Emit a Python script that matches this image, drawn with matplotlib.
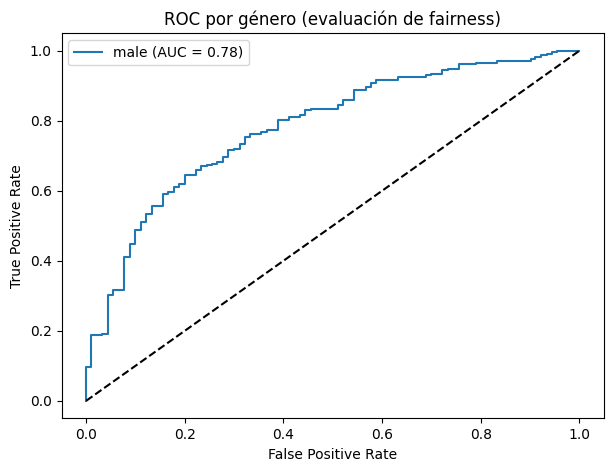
import matplotlib
matplotlib.use("Agg")
import matplotlib.pyplot as plt

fpr = [0.0, 0.0, 0.009, 0.009, 0.032, 0.032, 0.044, 0.044, 0.054, 0.054,
       0.077, 0.077, 0.089, 0.089, 0.099, 0.099, 0.112, 0.112, 0.122, 0.122,
       0.134, 0.134, 0.156, 0.156, 0.166, 0.166, 0.179, 0.179, 0.189, 0.189,
       0.201, 0.201, 0.223, 0.223, 0.233, 0.233, 0.245, 0.245, 0.256, 0.256,
       0.266, 0.266, 0.277, 0.277, 0.288, 0.288, 0.299, 0.299, 0.311, 0.311,
       0.323, 0.323, 0.333, 0.333, 0.355, 0.355, 0.367, 0.367, 0.389, 0.389,
       0.412, 0.412, 0.433, 0.433, 0.444, 0.444, 0.456, 0.456, 0.510, 0.510,
       0.521, 0.521, 0.544, 0.544, 0.567, 0.567, 0.578, 0.578, 0.588, 0.588,
       0.632, 0.632, 0.690, 0.690, 0.699, 0.699, 0.722, 0.722, 0.734, 0.734,
       0.757, 0.757, 0.790, 0.790, 0.833, 0.833, 0.901, 0.901, 0.911, 0.911,
       0.923, 0.923, 0.934, 0.934, 0.945, 0.945, 0.955, 0.955, 1.0]
tpr = [0.0, 0.097, 0.097, 0.189, 0.189, 0.192, 0.192, 0.303, 0.303, 0.316,
       0.316, 0.410, 0.410, 0.447, 0.447, 0.487, 0.487, 0.511, 0.511, 0.533,
       0.533, 0.558, 0.558, 0.590, 0.590, 0.596, 0.596, 0.610, 0.610, 0.620,
       0.620, 0.645, 0.645, 0.659, 0.659, 0.670, 0.670, 0.675, 0.675, 0.677,
       0.677, 0.682, 0.682, 0.697, 0.697, 0.717, 0.717, 0.720, 0.720, 0.733,
       0.733, 0.753, 0.753, 0.762, 0.762, 0.767, 0.767, 0.775, 0.775, 0.802,
       0.802, 0.811, 0.811, 0.817, 0.817, 0.830, 0.830, 0.834, 0.834, 0.846,
       0.846, 0.860, 0.860, 0.888, 0.888, 0.897, 0.897, 0.909, 0.909, 0.917,
       0.917, 0.926, 0.926, 0.931, 0.931, 0.934, 0.934, 0.944, 0.944, 0.947,
       0.947, 0.962, 0.962, 0.966, 0.966, 0.972, 0.972, 0.976, 0.976, 0.983,
       0.983, 0.988, 0.988, 0.992, 0.992, 0.997, 0.997, 1.0, 1.0]
label = "male (AUC = 0.78)"
title = "ROC por género (evaluación de fairness)"

W, H = 613, 471
fig = plt.figure(figsize=(W / 100, H / 100), dpi=100)
ax = fig.add_axes([61.5 / W, 1 - 418.3 / H, 542.5 / W, 385.0 / H])
ax.plot(fpr, tpr, color="#1f77b4", label=label)
ax.plot([0, 1], [0, 1], "k--")
ax.set_xlabel("False Positive Rate")
ax.set_ylabel("True Positive Rate")
ax.set_title(title)
ax.legend(loc="upper left")
fig.savefig("out.png", dpi=100)
